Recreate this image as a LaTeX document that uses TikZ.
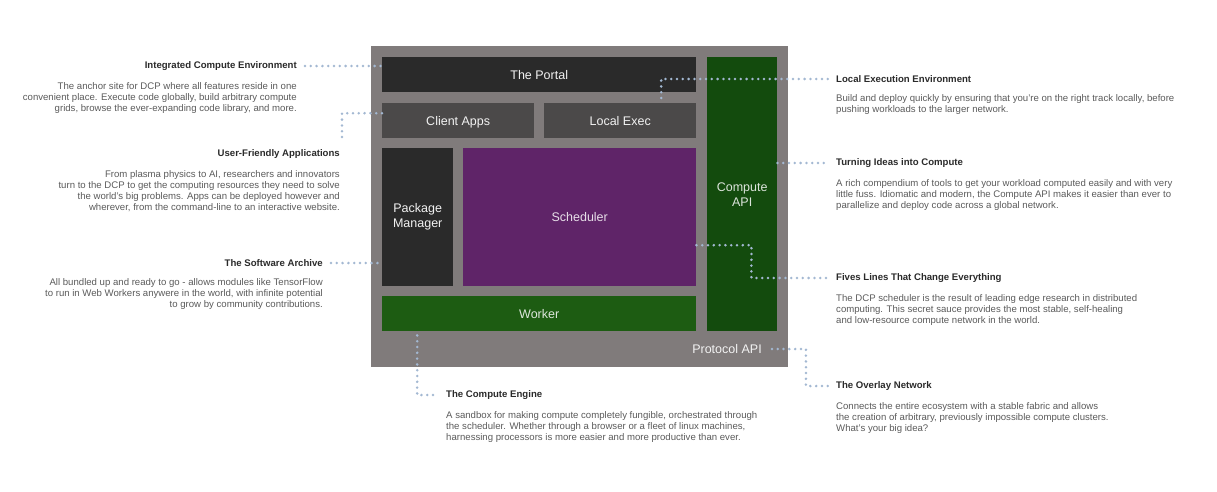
\documentclass[tikz,border=0pt]{standalone}
\usepackage{fontspec}
\setmainfont{Liberation Sans}
\usepackage{tikz}
\usetikzlibrary{positioning}
\definecolor{frame}{HTML}{807B7B}
\definecolor{darkbox}{HTML}{2A2A2A}
\definecolor{midbox}{HTML}{4B4949}
\definecolor{schedbox}{HTML}{5F2468}
\definecolor{workerbox}{HTML}{1D5C12}
\definecolor{apibox}{HTML}{134B0D}
\definecolor{dotblue}{HTML}{A3B8D2}
\definecolor{headgray}{HTML}{2A2A2A}
\definecolor{bodygray}{HTML}{5A5A5A}
\tikzstyle{block} = [anchor=north west, inner sep=0pt, align=center, text=white!90!gray, font=\fontsize{12.5}{15}\selectfont]
\tikzstyle{oneline} = [text height=9pt, text depth=0pt]
\tikzstyle{head} = [inner sep=0pt, text=headgray, font=\bfseries\fontsize{9.6}{11}\selectfont]
\tikzstyle{body} = [inner sep=0pt, text=bodygray, font=\fontsize{9.6}{11}\selectfont]
\tikzstyle{link} = [draw=dotblue, line width=2.8pt, line cap=round, dash pattern=on 0pt off 5.8pt]
\begin{document}
\begin{tikzpicture}[x=1pt, y=-1pt]
        \useasboundingbox (0,0) rectangle (1217,491);

        \node (frame) [block, minimum width=417pt, minimum height=321pt, fill=frame] at (371,46) {};
        \node (portal) [block, oneline, minimum width=314pt, minimum height=35pt, fill=darkbox] at (382,57) {The Portal};
        \node (clientapps) [block, oneline, minimum width=152pt, minimum height=35pt, fill=midbox] at (382,103) {Client Apps};
        \node (localexec) [block, oneline, minimum width=152pt, minimum height=35pt, fill=midbox] at (544,103) {Local Exec};
        \node (pkgmgr) [block, minimum width=71pt, minimum height=138pt, fill=darkbox] at (382,148) {Package\\Manager};
        \node (scheduler) [block, oneline, minimum width=233pt, minimum height=138pt, fill=schedbox, text=white!85!schedbox] at (463,148) {Scheduler};
        \node (worker) [block, oneline, minimum width=314pt, minimum height=35pt, fill=workerbox, text=white!85!workerbox] at (382,296) {Worker};
        \node (computeapi) [block, minimum width=70pt, minimum height=274pt, fill=apibox, text=white!85!apibox] at (707,57) {Compute\\API};
        \node (protocol) [oneline, inner sep=0pt, text=white!90!gray, font=\fontsize{12.5}{15}\selectfont] at (727,349) {Protocol API};

        \node (icehead) [head, anchor=east] at (297,66) {Integrated Compute Environment};
        \node (icebody) [body, below=11.5pt of icehead.south east, anchor=north east, align=right] {The anchor site for DCP where all features reside in one\\convenient place. Execute code globally, build arbitrary compute\\grids, browse the ever-expanding code library, and more.};

        \node (ufahead) [head, anchor=east] at (340,154) {User-Friendly Applications};
        \node (ufabody) [body, below=11.5pt of ufahead.south east, anchor=north east, align=right] {From plasma physics to AI, researchers and innovators\\turn to the DCP to get the computing resources they need to solve\\the world's big problems. Apps can be deployed however and\\wherever, from the command-line to an interactive website.};

        \node (swhead) [head, anchor=east] at (323,263) {The Software Archive};
        \node (swbody) [body, below=11.5pt of swhead.south east, anchor=north east, align=right] {All bundled up and ready to go - allows modules like TensorFlow\\to run in Web Workers anywere in the world, with infinite potential\\to grow by community contributions.};

        \node (lehead) [head, anchor=west] at (836,79) {Local Execution Environment};
        \node (lebody) [body, below=11.5pt of lehead.south west, anchor=north west, align=left] {Build and deploy quickly by ensuring that you're on the right track locally, before\\pushing workloads to the larger network.};

        \node (tichead) [head, anchor=west] at (836,163) {Turning Ideas into Compute};
        \node (ticbody) [body, below=11.5pt of tichead.south west, anchor=north west, align=left] {A rich compendium of tools to get your workload computed easily and with very\\little fuss. Idiomatic and modern, the Compute API makes it easier than ever to\\parallelize and deploy code across a global network.};

        \node (flhead) [head, anchor=west] at (836,278) {Fives Lines That Change Everything};
        \node (flbody) [body, below=11.5pt of flhead.south west, anchor=north west, align=left] {The DCP scheduler is the result of leading edge research in distributed\\computing. This secret sauce provides the most stable, self-healing\\and low-resource compute network in the world.};

        \node (onhead) [head, anchor=west] at (836,386) {The Overlay Network};
        \node (onbody) [body, below=11.5pt of onhead.south west, anchor=north west, align=left] {Connects the entire ecosystem with a stable fabric and allows\\the creation of arbitrary, previously impossible compute clusters.\\What's your big idea?};

        \node (cehead) [head, anchor=west] at (446,395) {The Compute Engine};
        \node (cebody) [body, below=11.5pt of cehead.south west, anchor=north west, align=left] {A sandbox for making compute completely fungible, orchestrated through\\the scheduler. Whether through a browser or a fleet of linux machines,\\harnessing processors is more easier and more productive than ever.};

        \draw[link] ([xshift=8pt]icehead.east) -- (icehead -| portal.west);
        \draw[link] ([yshift=7.5pt]clientapps.west) -| ([xshift=2pt,yshift=16pt]ufahead.east);
        \draw[link] ([xshift=8pt]swhead.east) -- (swhead -| pkgmgr.west);
        \draw[link] ([xshift=41pt,yshift=5pt]localexec.north) |- ([xshift=-8pt]lehead.west);
        \draw[link] (tichead -| computeapi.east) -- ([xshift=-8pt]tichead.west);
        \draw[link] ([yshift=-28pt]scheduler.east) -- ++(55,0) |- ([xshift=-8pt]flhead.west);
        \draw[link] ([xshift=10pt]protocol.east) -- ++(34,0) |- ([xshift=-8pt]onhead.west);
        \draw[link] ([xshift=-122pt,yshift=-4pt]worker.south) |- ([xshift=-8pt]cehead.west);

    \end{tikzpicture}
\end{document}
